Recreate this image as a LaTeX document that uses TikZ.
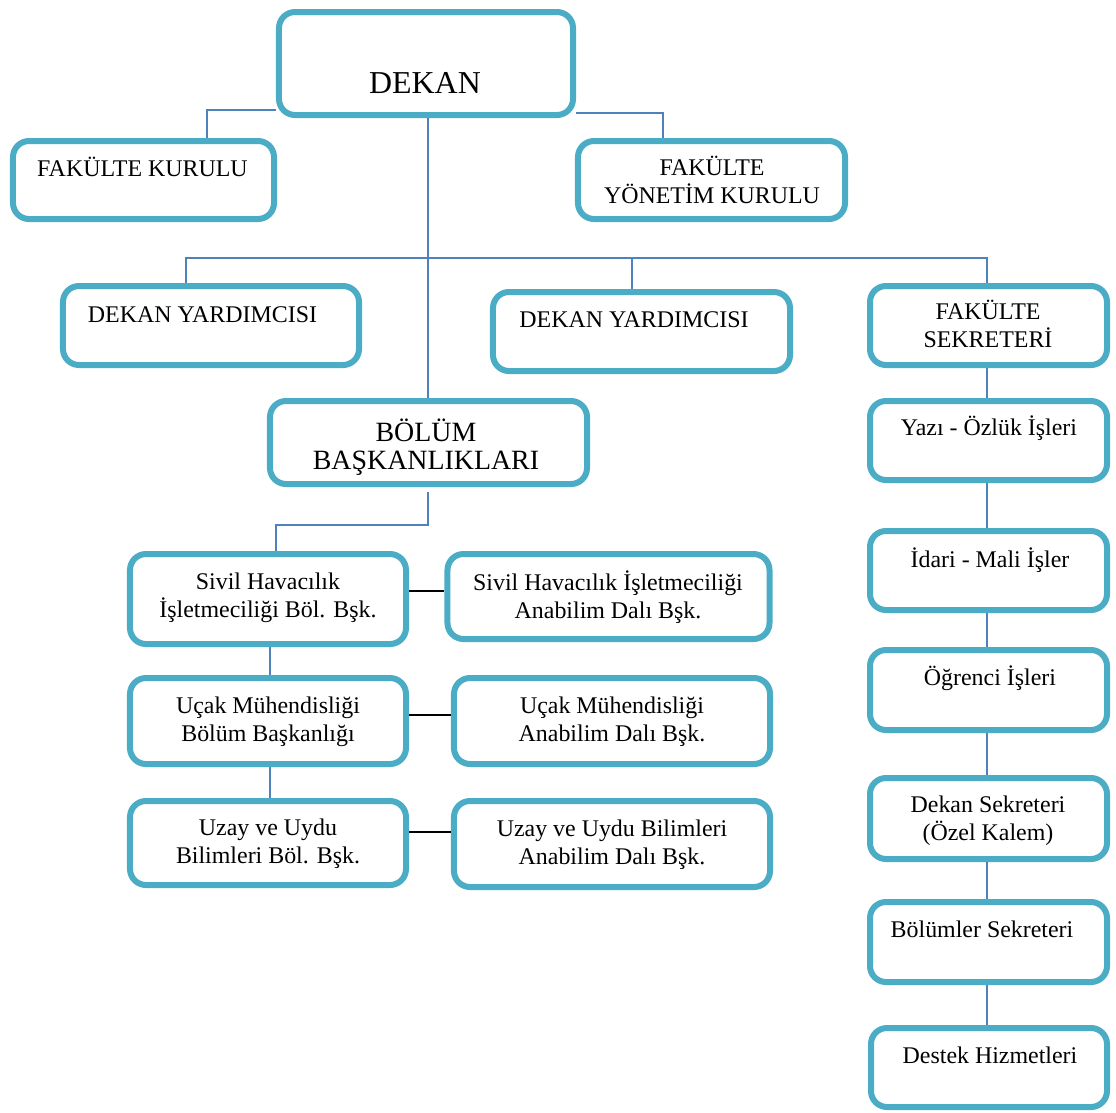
\documentclass[tikz,border=0pt]{standalone}
\usepackage{fontspec}
\setmainfont{Liberation Serif}
\definecolor{boxc}{HTML}{4BACC6}
\definecolor{linec}{HTML}{4F81BD}
\begin{document}
\begin{tikzpicture}[x=0.5bp,y=-0.5bp,
  box/.style={draw=boxc, line width=3bp, rounded corners=8bp, fill=white, inner sep=0pt},
  txt/.style={anchor=base, align=center, inner sep=0pt, font=\fontsize{12}{13.8}\selectfont},
  conn/.style={draw=linec, line width=1bp},
  blk/.style={draw=black, line width=1bp}]
\useasboundingbox (0,0) rectangle (1116,1113);
% boxes
\node[box, minimum width=147bp, minimum height=51.5bp] (dekan) at (426,63.5) {};
\node[box, minimum width=130.5bp, minimum height=39bp] (fk) at (143.5,180) {};
\node[box, minimum width=133.5bp, minimum height=39bp] (fyk) at (711.5,180) {};
\node[box, minimum width=148bp, minimum height=39.5bp] (dy1) at (211,325.5) {};
\node[box, minimum width=148.5bp, minimum height=39.5bp] (dy2) at (641.5,331.5) {};
\node[box, minimum width=118.5bp, minimum height=39.5bp] (fs) at (988.5,325.5) {};
\node[box, minimum width=158.5bp, minimum height=41.5bp] (bb) at (428.5,442.5) {};
\node[box, minimum width=138bp, minimum height=45bp] (s1) at (268,599) {};
\node[box, minimum width=161bp, minimum height=42.5bp] (s2) at (608.5,596.5) {};
\node[box, minimum width=138bp, minimum height=43bp] (u1) at (268,721) {};
\node[box, minimum width=158bp, minimum height=43bp] (u2) at (612,721) {};
\node[box, minimum width=138bp, minimum height=42bp] (z1) at (268,843) {};
\node[box, minimum width=158bp, minimum height=43bp] (z2) at (612,844) {};
\node[box, minimum width=118.5bp, minimum height=39.5bp] (yazi) at (988.5,440.5) {};
\node[box, minimum width=118.5bp, minimum height=39.5bp] (idari) at (988.5,570.5) {};
\node[box, minimum width=118.5bp, minimum height=40bp] (ogr) at (988.5,690) {};
\node[box, minimum width=118.5bp, minimum height=40.5bp] (ds) at (988.5,818.5) {};
\node[box, minimum width=118.5bp, minimum height=40bp] (bs) at (988.5,942) {};
\node[box, minimum width=118bp, minimum height=39.5bp] (dh) at (989,1067.5) {};
% texts (anchor = baseline of the last line)
\node[txt, font=\fontsize{16}{18}\selectfont] (tdekan) at (425,93) {DEKAN};
\node[txt] (tfk) at (142.5,176) {FAKÜLTE KURULU};
\node[txt] (tfyk) at (712,203) {FAKÜLTE\\YÖNETİM KURULU};
\node[txt] (tdy1) at (202.5,322) {DEKAN YARDIMCISI};
\node[txt] (tdy2) at (634,327) {DEKAN YARDIMCISI};
\node[txt] (tfs) at (988,347) {FAKÜLTE\\SEKRETERİ};
\node[txt, font=\fontsize{14}{14}\selectfont] (tbb) at (426,469) {BÖLÜM\\BAŞKANLIKLARI};
\node[txt] (ts1) at (268,617) {Sivil Havacılık\\İşletmeciliği Böl. Bşk.};
\node[txt] (ts2) at (608,618) {Sivil Havacılık İşletmeciliği\\Anabilim Dalı Bşk.};
\node[txt] (tu1) at (268,741) {Uçak Mühendisliği\\Bölüm Başkanlığı};
\node[txt] (tu2) at (612,741) {Uçak Mühendisliği\\Anabilim Dalı Bşk.};
\node[txt] (tz1) at (268,863) {Uzay ve Uydu\\Bilimleri Böl. Bşk.};
\node[txt] (tz2) at (612,864) {Uzay ve Uydu Bilimleri\\Anabilim Dalı Bşk.};
\node[txt] (tyazi) at (989,435) {Yazı - Özlük İşleri};
\node[txt] (tidari) at (990,567) {İdari - Mali İşler};
\node[txt] (togr) at (990,685) {Öğrenci İşleri};
\node[txt] (tds) at (988,840) {Dekan Sekreteri\\(Özel Kalem)};
\node[txt] (tbs) at (982,937) {Bölümler Sekreteri};
\node[txt] (tdh) at (990,1063) {Destek Hizmetleri};
% coordinates
\coordinate (c1) at (207,110);
\coordinate (c2) at (663,113);
\coordinate (mv) at (428,258);
\coordinate (bL) at (186,258);
\coordinate (bM) at (632,258);
\coordinate (bR) at (987,258);
\coordinate (c6a) at (428,492);
\coordinate (c6) at (428,525);
\coordinate (c7) at (276,525);
\coordinate (v1) at (270,0);
\coordinate (h1) at (0,591);
\coordinate (h2) at (0,715);
\coordinate (h3) at (0,832);
\coordinate (rc) at (987,0);
% connectors
\draw[conn] (dekan.west |- c1) -| (c1 |- fk.north);
\draw[conn] (dekan.east |- c2) -| (c2 |- fyk.north);
\draw[conn] (mv |- dekan.south) -- (mv |- bb.north);
\draw[conn] (bL |- dy1.north) -- (bL) -- (bR) -- (bR |- fs.north);
\draw[conn] (bM) -- (bM |- dy2.north);
\draw[conn] (c6a) -- (c6) -- (c7) -- (c7 |- s1.north);
\draw[conn] (v1 |- s1.south) -- (v1 |- u1.north);
\draw[conn] (v1 |- u1.south) -- (v1 |- z1.north);
\draw[blk] (s1.east |- h1) -- (s2.west |- h1);
\draw[blk] (u1.east |- h2) -- (u2.west |- h2);
\draw[blk] (z1.east |- h3) -- (z2.west |- h3);
\draw[conn] (rc |- fs.south) -- (rc |- yazi.north);
\draw[conn] (rc |- yazi.south) -- (rc |- idari.north);
\draw[conn] (rc |- idari.south) -- (rc |- ogr.north);
\draw[conn] (rc |- ogr.south) -- (rc |- ds.north);
\draw[conn] (rc |- ds.south) -- (rc |- bs.north);
\draw[conn] (rc |- bs.south) -- (rc |- dh.north);
\end{tikzpicture}
\end{document}
